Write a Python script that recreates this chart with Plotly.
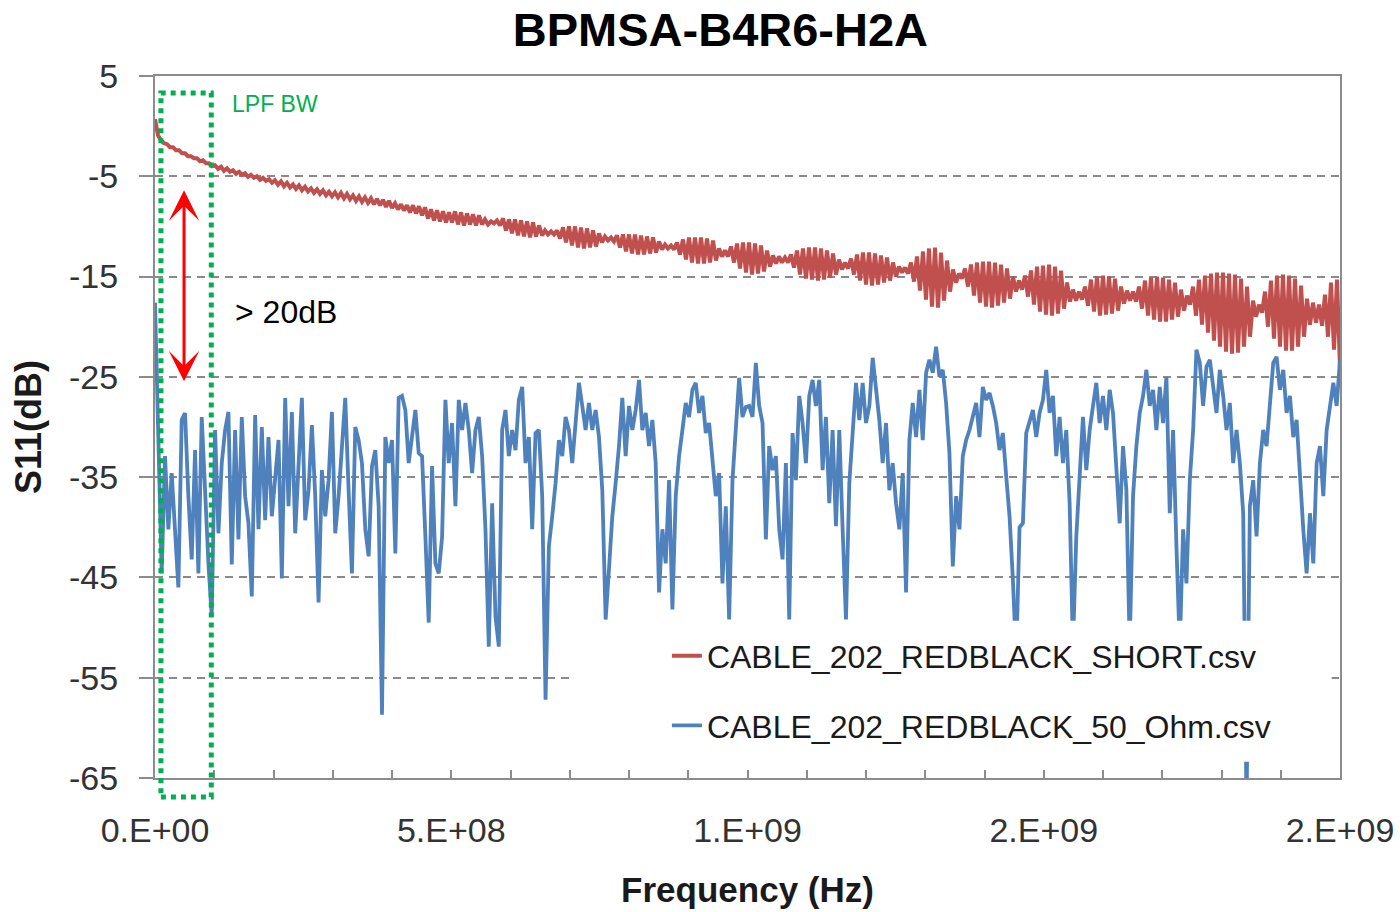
import numpy as np
import plotly.graph_objects as go

# Sweep span (Hz)
F_START_HZ = 0.0
F_STOP_HZ = 2.0e9

# S11 (dB), cable terminated with a short
short_db = [
    0.7, -0.9, -1.4, -1.7, -1.8, -2.1, -2.1, -2.4, -2.4, -2.7, -2.7, -3.0, -3.0, -3.2, -3.2, -3.5, -3.4, -3.7, -3.7, -4.0,
    -3.9, -4.25, -4.05, -4.45, -4.2, -4.55, -4.4, -4.75, -4.55, -4.85, -4.7, -5.05, -4.85, -5.15, -5.0, -5.35, -5.15, -5.45, -5.3, -5.65,
    -5.4, -5.85, -5.5, -6.0, -5.65, -6.1, -5.8, -6.25, -5.9, -6.4, -6.05, -6.5, -6.2, -6.65, -6.3, -6.75, -6.4, -6.9, -6.55, -7.0,
    -6.6, -7.1, -6.65, -7.2, -6.75, -7.3, -6.9, -7.45, -7.0, -7.55, -7.1, -7.65, -7.2, -7.8, -7.25, -7.9, -7.35, -8.05, -7.45, -8.15,
    -7.7, -8.3, -7.8, -8.4, -7.9, -8.6, -7.9, -8.7, -8.0, -8.9, -8.1, -9.2, -8.3, -9.4, -8.4, -9.5, -8.5, -9.6, -8.6, -9.6,
    -8.5, -9.8, -8.6, -9.9, -8.7, -9.8, -8.8, -9.9, -8.9, -9.8, -9.3, -9.8, -9.5, -9.7, -9.4, -9.9, -9.2, -10.4, -9.3, -10.7,
    -9.3, -10.9, -9.4, -11.0, -9.5, -11.1, -9.6, -11.0, -9.9, -10.9, -10.4, -10.8, -10.5, -10.8, -10.4, -11.2, -10.1, -11.6, -10.0, -11.9,
    -10.0, -12.1, -10.1, -12.2, -10.2, -12.1, -10.4, -12.0, -10.7, -11.6, -11.0, -11.4, -11.1, -11.5, -10.9, -12.1, -10.8, -12.5, -10.8, -12.7,
    -10.8, -12.8, -10.9, -12.8, -11.0, -12.7, -11.1, -12.6, -11.5, -12.3, -11.8, -12.2, -11.9, -12.3, -11.6, -12.8, -11.3, -13.3, -11.1, -13.6,
    -11.1, -13.7, -11.1, -13.7, -11.2, -13.6, -11.4, -13.4, -12.2, -13.0, -12.4, -13.0, -12.0, -13.6, -11.7, -14.2, -11.6, -14.6, -11.6, -14.8,
    -11.7, -14.7, -11.9, -14.5, -12.4, -14.0, -12.9, -13.7, -13.0, -13.6, -13.1, -13.6, -12.8, -14.1, -12.4, -14.8, -12.2, -15.2, -12.1, -15.3,
    -12.1, -15.4, -12.2, -15.3, -12.4, -15.1, -12.7, -14.8, -13.3, -14.3, -13.6, -14.2, -13.2, -14.8, -12.8, -15.4, -12.6, -15.8, -12.6, -15.9,
    -12.7, -15.8, -12.9, -15.6, -13.1, -15.4, -13.6, -15.0, -14.0, -14.6, -14.1, -14.7, -13.6, -15.5, -13.0, -16.4, -12.5, -17.3, -12.2, -18.0,
    -12.1, -18.1, -12.6, -17.4, -13.4, -16.5, -14.3, -15.6, -14.7, -15.2, -14.2, -16.0, -13.8, -16.9, -13.6, -17.6, -13.5, -18.0, -13.5, -18.1,
    -13.6, -17.9, -13.8, -17.6, -14.2, -17.2, -15.0, -16.5, -15.4, -16.3, -14.9, -17.0, -14.4, -17.8, -14.0, -18.5, -13.9, -18.8, -13.8, -18.9,
    -14.0, -18.7, -14.4, -18.2, -15.6, -17.5, -16.3, -17.4, -16.5, -17.3, -16.0, -17.9, -15.3, -18.5, -15.0, -18.9, -14.9, -18.8, -15.0, -18.7,
    -15.2, -18.4, -16.0, -17.7, -16.4, -17.4, -16.5, -17.5, -16.0, -18.2, -15.4, -18.9, -15.1, -19.3, -15.0, -19.5, -15.1, -19.5, -15.3, -19.3,
    -15.6, -19.0, -16.3, -18.4, -16.9, -17.8, -16.0, -18.9, -15.3, -19.8, -14.9, -20.6, -14.7, -21.4, -14.6, -22.0, -14.6, -22.5, -14.7, -22.7,
    -14.8, -22.6, -15.2, -22.0, -16.0, -21.0, -17.4, -19.0, -17.8, -18.6, -16.5, -20.0, -15.4, -21.2, -14.9, -22.0, -14.8, -22.4, -14.9, -22.4,
    -15.2, -22.0, -15.9, -21.0, -17.2, -19.8, -17.6, -19.6, -17.8, -19.9, -16.8, -21.0, -15.6, -22.3, -15.3, -24.0,
]

# S11 (dB), cable terminated with a 50 Ohm load
ohm50_db = [
    -17.6, -31.0, -44.6, -32.9, -40.2, -34.6, -40.2, -46.0, -29.3, -28.6,
    -36.9, -43.2, -32.3, -44.6, -29.0, -36.9, -43.6, -48.9, -30.3, -40.6,
    -33.6, -30.3, -28.5, -43.7, -30.3, -41.2, -29.0, -36.9, -39.6, -46.9,
    -28.8, -40.2, -30.0, -39.3, -31.0, -38.9, -35.3, -31.3, -45.1, -27.1,
    -37.9, -28.5, -40.6, -33.6, -27.1, -39.3, -36.3, -29.8, -36.9, -47.5,
    -34.3, -38.9, -35.3, -28.5, -40.6, -36.9, -32.3, -27.1, -36.3, -44.6,
    -30.0, -31.3, -33.6, -40.2, -42.9, -33.9, -32.3, -37.9, -58.7, -31.0,
    -33.6, -31.3, -42.6, -27.1, -26.9, -28.3, -33.6, -31.0, -28.3, -32.6,
    -32.9, -40.9, -49.5, -33.9, -43.6, -44.6,
    -41.0, -27.3, -33.6, -29.6, -37.9, -27.3, -30.3, -27.6, -30.3, -34.6,
    -30.3, -29.0, -32.9, -40.2, -51.9, -37.6, -48.9, -51.9, -30.3, -28.3,
    -32.9, -30.3, -32.3, -27.3, -26.0, -33.6, -31.0, -40.2, -30.6, -30.3,
    -36.9, -57.2, -41.9, -38.9, -35.6, -31.3, -32.9, -29.0, -30.3, -33.6,
    -29.6, -25.6, -27.9, -30.3, -27.6, -30.3, -28.3, -31.0, -36.3, -49.2,
    -44.2, -38.9, -35.6, -31.9, -27.1, -32.9, -27.9, -30.3, -28.3, -25.3,
    -30.3, -28.6, -31.9, -29.3, -33.6, -46.5, -40.2, -43.6, -35.3, -48.2,
    -36.9, -32.9, -30.3, -27.6, -29.0, -26.3, -25.6, -28.6, -26.9, -30.6,
    -29.6, -33.3, -36.9, -34.6, -45.6, -37.9, -49.2, -35.3, -30.3, -25.1,
    -29.0, -28.0, -27.9, -29.0, -23.6, -27.9, -29.6, -41.2, -31.9, -34.3,
    -32.9, -40.2, -43.2, -33.6, -49.2, -30.6, -35.3, -26.9, -29.6, -33.6,
    -26.9, -25.3, -27.9, -25.3, -34.3, -29.0, -37.6, -30.3, -39.9, -30.3,
    -40.2, -49.2, -35.6, -30.0, -25.6, -29.3, -25.6, -29.6, -27.9, -23.1,
    -26.3, -29.3, -33.6, -29.6, -36.3, -33.6, -37.6, -40.2, -34.6, -46.5,
    -31.3, -27.6, -31.0, -26.3, -31.3, -24.6, -23.3, -24.6, -22.0, -25.0,
    -24.3, -27.6, -32.6, -43.9, -36.9, -40.2, -32.9, -31.3, -30.3, -29.0,
    -27.6, -31.0, -26.0, -27.3, -26.6, -27.9, -29.6, -32.3, -30.6, -34.9,
    -38.9, -45.2, -53.0, -40.0, -39.6, -30.6, -29.3, -28.3, -31.0, -28.6,
    -27.3, -24.3, -28.6, -26.9, -32.9, -29.0, -33.6, -30.3, -37.6, -52.0,
    -40.9, -34.3, -29.0, -34.3, -30.3, -27.9, -25.6, -29.6, -26.9, -30.3,
    -26.3, -28.6, -33.6, -39.6, -31.9, -36.3, -52.0, -36.9, -31.9, -28.6,
    -26.9, -24.3, -27.9, -26.3, -30.3, -26.0, -29.6, -25.0, -38.6, -30.3,
    -41.9, -52.0, -40.2, -45.6, -35.3, -30.3, -22.3, -23.6, -27.9, -24.0,
    -23.3, -26.3, -28.6, -24.3, -26.9, -30.3, -27.6, -33.6, -30.3, -33.6,
    -38.6, -68.0, -37.9, -35.3, -40.9, -33.6, -30.3, -31.9, -27.9, -23.6,
    -23.0, -26.3, -24.3, -28.6, -26.9, -31.0, -29.3, -35.3, -40.2, -44.6,
    -38.6, -43.6, -33.6, -31.9, -36.9, -30.3, -27.6, -25.6, -27.9, -23.3,
]

series_names = ["CABLE_202_REDBLACK_SHORT.csv", "CABLE_202_REDBLACK_50_Ohm.csv"]

x_tick_vals = [0.0, 5.0e8, 1.0e9, 1.5e9, 2.0e9]
x_tick_text = ["0.E+00", "5.E+08", "1.E+09", "2.E+09", "2.E+09"]
y_tick_vals = [5, -5, -15, -25, -35, -45, -55, -65]
Y_MIN, Y_MAX = -65, 5

# Annotation geometry (data units)
lpf_band_hz = [1.0e7, 9.5e7]
lpf_box_db = [3.3, -66.9]
arrow_hz = 4.9e7
arrow_db = [-6.4, -25.6]

RED = "#C0504D"
BLUE = "#4F81BD"
GREEN = "#00B050"
AXIS_GRAY = "#8C8C8C"
FONT = "Liberation Sans"

short_hz = np.linspace(F_START_HZ, F_STOP_HZ, len(short_db))
ohm50_hz = np.linspace(F_START_HZ, F_STOP_HZ, len(ohm50_db))


def px(f_hz):
    return (f_hz - F_START_HZ) / (F_STOP_HZ - F_START_HZ)


def py(db):
    return (db - Y_MIN) / (Y_MAX - Y_MIN)


fig = go.Figure()
fig.add_trace(go.Scatter(x=short_hz, y=short_db, mode="lines", name=series_names[0],
                         legendgroup="short", line=dict(color=RED, width=4)))
fig.add_trace(go.Scatter(x=ohm50_hz, y=ohm50_db, mode="lines", name=series_names[1],
                         legendgroup="load", line=dict(color=BLUE, width=3.8)))

# white legend panel sitting over the plot area
fig.add_shape(type="rect", xref="paper", yref="paper", x0=0.350, x1=0.993, y0=0.023, y1=0.224,
              fillcolor="white", line=dict(width=0), layer="above")

# LPF bandwidth box
fig.add_shape(type="rect", xref="paper", yref="paper",
              x0=px(lpf_band_hz[0]), x1=px(lpf_band_hz[1]),
              y0=py(lpf_box_db[1]), y1=py(lpf_box_db[0]),
              line=dict(color=GREEN, width=5, dash="dot"), layer="above")
fig.add_annotation(x=px(lpf_band_hz[1]) + 0.016, y=py(2.2), xref="paper", yref="paper",
                   text="LPF BW", showarrow=False, xanchor="left", yanchor="middle",
                   font=dict(family=FONT, size=23, color=GREEN))

# double-headed arrow for the separation between the two curves
fig.add_annotation(x=arrow_hz, y=arrow_db[0], ax=arrow_hz, ay=arrow_db[1],
                   xref="x", yref="y", axref="x", ayref="y", text="",
                   showarrow=True, arrowside="end+start", arrowhead=3, startarrowhead=3,
                   arrowsize=1.7, startarrowsize=1.7, arrowwidth=3, arrowcolor="#FF0000",
                   standoff=0, startstandoff=0)
fig.add_annotation(x=1.316e8, y=-18.5, xref="x", yref="y", text="&gt; 20dB",
                   showarrow=False, xanchor="left", yanchor="middle",
                   font=dict(family=FONT, size=32, color="black"))

fig.update_layout(
    width=1400, height=912,
    margin=dict(l=155, r=60, t=76, b=134, autoexpand=False),
    paper_bgcolor="white", plot_bgcolor="white",
    font=dict(family=FONT, color="#262626"),
    title=dict(text="BPMSA-B4R6-H2A", x=0.5146, xref="container", xanchor="center",
               y=1 - 30 / 912, yref="container", yanchor="middle",
               font=dict(family=FONT, size=47, color="black", weight="bold")),
    showlegend=True,
    legend=dict(x=0.432, y=0.124, xanchor="left", yanchor="middle",
                bgcolor="rgba(255,255,255,0)", borderwidth=0, tracegroupgap=25,
                font=dict(family=FONT, size=32, color="#1a1a1a")),
    hovermode=False,
)

fig.update_xaxes(
    range=[F_START_HZ, F_STOP_HZ], tickmode="array", tickvals=x_tick_vals, ticktext=x_tick_text,
    ticks="inside", ticklen=8, tickwidth=1.5, tickcolor=AXIS_GRAY,
    minor=dict(tickmode="linear", tick0=0, dtick=1.0e8, ticks="inside", ticklen=8,
               tickwidth=1.5, tickcolor=AXIS_GRAY, showgrid=False),
    showline=True, linecolor=AXIS_GRAY, linewidth=2, mirror=True,
    showgrid=False, zeroline=False, automargin=False, ticklabelstandoff=21,
    tickfont=dict(family=FONT, size=34, color="#333333"),
    title=dict(text="Frequency (Hz)", standoff=30,
               font=dict(family=FONT, size=35, color="#1a1a1a", weight="bold")),
)
fig.update_yaxes(
    range=[Y_MIN, Y_MAX], tickmode="array", tickvals=y_tick_vals,
    ticktext=[f"{v:g}" for v in y_tick_vals],
    ticks="outside", ticklen=14, tickwidth=1.5, tickcolor=AXIS_GRAY,
    showline=True, linecolor=AXIS_GRAY, linewidth=2, mirror=True,
    showgrid=True, gridcolor="#8A8A8A", gridwidth=1.5, griddash="8px,6px",
    zeroline=False, automargin=False, ticklabelstandoff=14,
    tickfont=dict(family=FONT, size=34, color="#333333"),
    title=dict(text="S11(dB)", standoff=16,
               font=dict(family=FONT, size=36, color="#1a1a1a", weight="bold")),
)

fig.write_html("out.html")
